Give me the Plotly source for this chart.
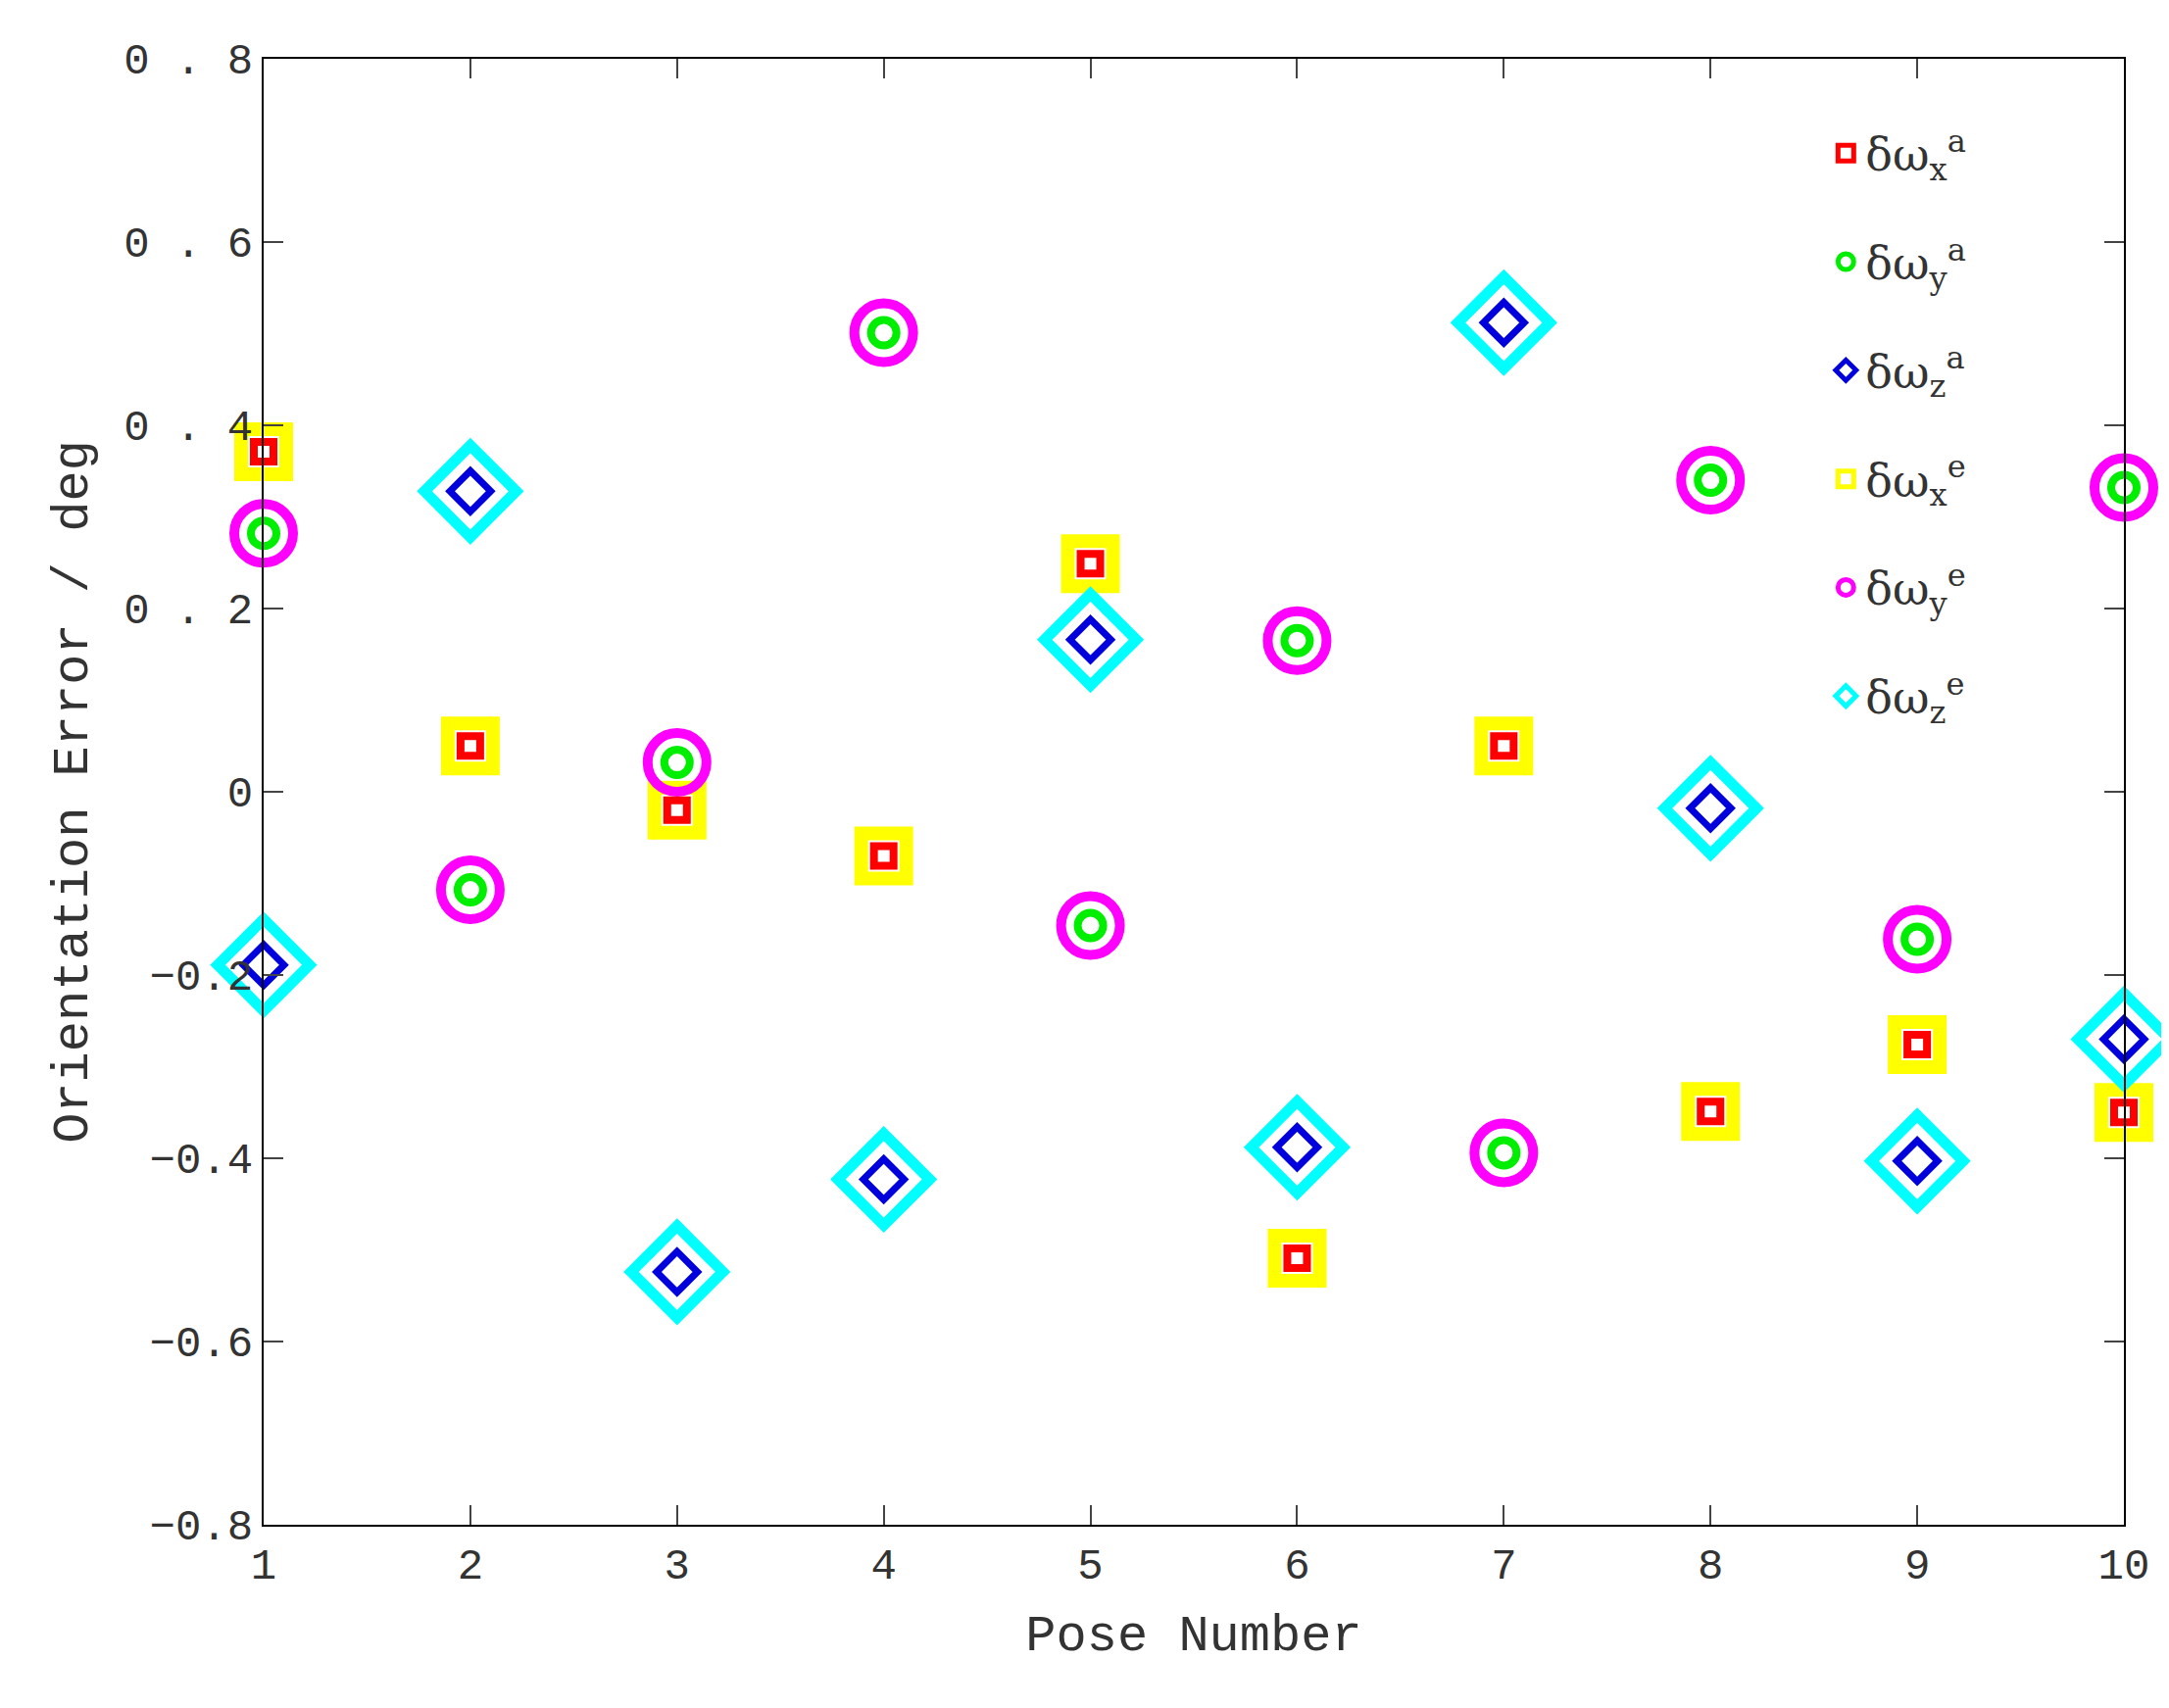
import plotly.graph_objects as go

pose = [1, 2, 3, 4, 5, 6, 7, 8, 9, 10]
wx = [0.371, 0.050, -0.020, -0.070, 0.249, -0.509, 0.050, -0.349, -0.276, -0.350]
wy = [0.282, -0.107, 0.032, 0.501, -0.146, 0.165, -0.394, 0.340, -0.161, 0.332]
wz = [-0.189, 0.328, -0.524, -0.423, 0.166, -0.388, 0.512, -0.018, -0.403, -0.270]
wx_e = wx
wy_e = wy
wz_e = wz
ytick_vals = [-0.8, -0.6, -0.4, -0.2, 0, 0.2, 0.4, 0.6, 0.8]
ytick_text = ["\u22120.8", "\u22120.6", "\u22120.4", "\u22120.2", "0", "0 . 2", "0 . 4", "0 . 6", "0 . 8"]

fig = go.Figure()
# estimated (behind)
fig.add_trace(go.Scatter(x=pose, y=wx_e, mode="markers", name="δω<sub>x</sub><sup>e</sup>", legendgroup="4",
    marker=dict(symbol="square-open", size=46, color="yellow", line=dict(width=14)), legendrank=4, cliponaxis=False))
fig.add_trace(go.Scatter(x=pose, y=wy_e, mode="markers", name="δω<sub>y</sub><sup>e</sup>", legendgroup="5",
    marker=dict(symbol="circle-open", size=60, color="#ff00ff", line=dict(width=10)), legendrank=5, cliponaxis=False))
fig.add_trace(go.Scatter(x=pose, y=wz_e, mode="markers", name="δω<sub>z</sub><sup>e</sup>", legendgroup="6",
    marker=dict(symbol="diamond-open", size=72, color="cyan", line=dict(width=11)), legendrank=6, cliponaxis=False))
# actual (front)
fig.add_trace(go.Scatter(x=pose, y=wx, mode="markers", name="δω<sub>x</sub><sup>a</sup>", legendgroup="1",
    marker=dict(symbol="square-open", size=20, color="red", line=dict(width=8)), legendrank=1, cliponaxis=False))
fig.add_trace(go.Scatter(x=pose, y=wy, mode="markers", name="δω<sub>y</sub><sup>a</sup>", legendgroup="2",
    marker=dict(symbol="circle-open", size=26, color="#00ee00", line=dict(width=8)), legendrank=2, cliponaxis=False))
fig.add_trace(go.Scatter(x=pose, y=wz, mode="markers", name="δω<sub>z</sub><sup>a</sup>", legendgroup="3",
    marker=dict(symbol="diamond-open", size=32, color="#0000dd", line=dict(width=7)), legendrank=3, cliponaxis=False))

axfont = dict(family="Liberation Mono, DejaVu Sans Mono, monospace", size=44, color="#333")
fig.update_layout(
    width=2213, height=1743, plot_bgcolor="white", paper_bgcolor="white",
    margin=dict(l=261, r=54, t=52, b=195),
    font=axfont,
    legend=dict(x=0.84, y=0.96, xanchor="left", yanchor="top", bgcolor="rgba(0,0,0,0)",
                font=dict(family="DejaVu Serif, serif", size=46, color="#333"), itemsizing="trace",
                tracegroupgap=48),
    xaxis=dict(range=[1, 10], tickvals=pose, ticks="inside", ticklen=20, tickwidth=2,
               showline=True, linecolor="black", linewidth=2, mirror="ticks", showgrid=False,
               zeroline=False, tickfont=axfont,
               title=dict(text="Pose Number", font=dict(family="Liberation Mono, monospace", size=52, color="#333"), standoff=25)),
    yaxis=dict(range=[-0.8, 0.8], tickvals=ytick_vals, ticktext=ytick_text, ticks="inside", ticklen=20, tickwidth=2,
               showline=True, linecolor="black", linewidth=2, mirror="ticks", showgrid=False,
               zeroline=False, tickfont=axfont,
               title=dict(text="Orientation Error / deg", font=dict(family="Liberation Mono, monospace", size=52, color="#333"), standoff=20)),
)
fig.write_html("out.html")
